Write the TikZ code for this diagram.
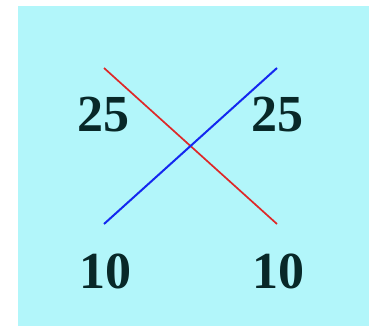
\documentclass[tikz,border=0pt]{standalone}
\usepackage{fontspec}
\setmainfont{Liberation Serif}
\definecolor{fondo}{RGB}{178,246,250}
\definecolor{cifra}{RGB}{8,40,40}
\definecolor{rojo}{RGB}{222,40,40}
\definecolor{azul}{RGB}{20,40,240}
\begin{document}
\begin{tikzpicture}[x=1pt,y=-1pt,
    num/.style={text=cifra,font=\fontsize{52}{52}\selectfont\bfseries,inner sep=0pt}]
    \useasboundingbox (0,0) rectangle (369,326);
    \fill[fondo] (18,6) rectangle (369,326);

    \coordinate (ai) at (104,68);
    \coordinate (ad) at (277,68);
    \coordinate (bi) at (104,224);
    \coordinate (bd) at (277,224);
    \draw[rojo,line width=1.7pt] (ai) -- (bd);
    \draw[azul,line width=2pt] (bi) -- (ad);

    \foreach \n\x\y\t in {
        n25i/103/115/25,
        n25d/277/115/25,
        n10i/105/271/10,
        n10d/278/271/10}{
      \node[num] (\n) at (\x,\y) {\t};
    }
\end{tikzpicture}
\end{document}
